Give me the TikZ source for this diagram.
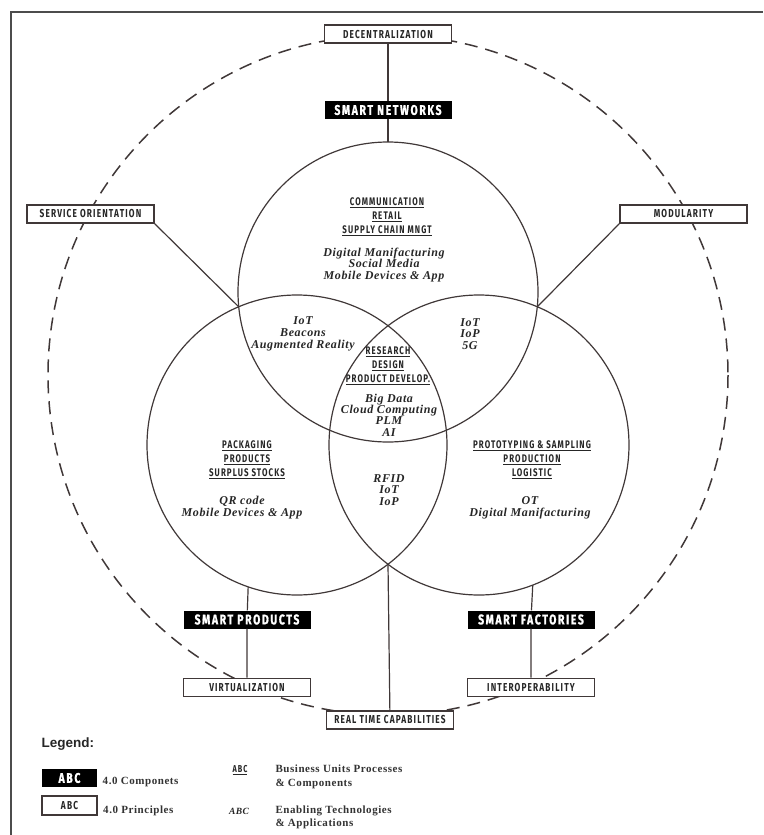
\documentclass[tikz,border=0pt]{standalone}
\usepackage{fontspec}
\newfontfamily\capsfont[FakeStretch=0.72,LetterSpace=10]{Fira Sans}
\newfontfamily\heavyfont[FakeStretch=0.74,LetterSpace=12,FakeBold=1.2]{Fira Sans}
\newfontfamily\serifbold[LetterSpace=5]{Liberation Serif}
\newfontfamily\legfont{Liberation Sans}
\usetikzlibrary{positioning}

\definecolor{ink}{RGB}{64,56,56}

\begin{document}
\begin{tikzpicture}[x=1pt, y=-1pt,
    principle/.style={draw=ink, line width=1.4pt, fill=white, minimum width=127pt, minimum height=18pt, inner sep=0pt,
      text=black!85, font=\capsfont\bfseries\fontsize{11.5}{12}\selectfont},
    component/.style={fill=black, text=white, minimum width=127pt, minimum height=18pt, inner sep=0pt,
      font=\heavyfont\bfseries\fontsize{14}{14}\selectfont},
    sphere/.style={draw=ink, line width=1.2pt, circle, minimum size=300pt, inner sep=0pt, outer sep=0pt},
    unit/.style={align=center, text=black!85, font=\capsfont\bfseries\fontsize{11}{14}\selectfont},
    tech/.style={align=center, text=black!85, font=\serifbold\bfseries\itshape\fontsize{12}{11.8}\selectfont},
    legtext/.style={align=left, text=black!80, font=\serifbold\bfseries\fontsize{11}{13.5}\selectfont},
    link/.style={draw=ink, line width=1.2pt}]
    \useasboundingbox (0,0) rectangle (763,835);
    \draw[black!70, line width=1.8pt] (11,835) -- (11,12) -- (763,12);

    % principles ring
    \draw[ink, line width=1.5pt, dash pattern=on 13pt off 8pt] (388,375) circle[radius=340];

    \node[sphere] (net) at (388,292) {};
    \node[sphere] (prod) at (297,445) {};
    \node[sphere] (fact) at (479,445) {};
    \coordinate (so) at (238.7,306.8);
    \coordinate (mo) at (537.3,306.8);
    \coordinate (rt) at (388,564.2);

    \node[component] (snet) at (388,110) {SMART NETWORKS};
    \node[principle, above=57pt of snet] (dec) {DECENTRALIZATION};
    \node[principle] (serv) at (90.5,214) {SERVICE ORIENTATION};
    \node[principle] (modu) at (683.5,214) {MODULARITY};
    \node[component] (sprod) at (247,619.5) {SMART PRODUCTS};
    \node[component] (sfact) at (531,619.5) {SMART FACTORIES};
    \node[principle, below=49pt of sprod] (virt) {VIRTUALIZATION};
    \node[principle, below=49pt of sfact] (inter) {INTEROPERABILITY};
    \node[principle] (real) at (390,720) {REAL TIME CAPABILITIES};

    \draw[link] (dec) -- (snet) -- (net.north);
    \draw[link] (serv.south east) -- (so);
    \draw[link] (modu.south west) -- (mo);
    \draw[link] (prod.-109.6) -- (sprod) -- (virt);
    \draw[link] (fact.-69.7) -- (sfact) -- (inter);
    \draw[link] (rt) -- (real);

    % units and technologies
    \node[unit] (netunits) at (387,217) {\underline{COMMUNICATION}\\\underline{RETAIL}\\\underline{SUPPLY CHAIN MNGT}};
    \node[tech] (nettech) at (384,265) {Digital Manifacturing\\Social Media\\Mobile Devices \& App};
    \node[tech] (netprod) at (303,334) {IoT\\Beacons\\Augmented Reality};
    \node[tech] (netfact) at (470,334) {IoT\\IoP\\5G};
    \node[unit] (coreunits) at (388,366) {\underline{RESEARCH}\\\underline{DESIGN}\\\underline{PRODUCT DEVELOP.}};
    \node[tech, font=\serifbold\bfseries\itshape\fontsize{12}{11.3}\selectfont] (coretech) at (389,415) {Big Data\\Cloud Computing\\PLM\\AI};
    \node[unit] (produnits) at (247,460) {\underline{PACKAGING}\\\underline{PRODUCTS}\\\underline{SURPLUS STOCKS}};
    \node[tech] (prodtech) at (242,507.5) {QR code\\Mobile Devices \& App};
    \node[unit] (factunits) at (532,460) {\underline{PROTOTYPING \& SAMPLING}\\\underline{PRODUCTION}\\\underline{LOGISTIC}};
    \node[tech] (facttech) at (530,507.5) {OT\\Digital Manifacturing};
    \node[tech] (prodfact) at (389,490) {RFID\\IoT\\IoP};

    % legend
    \node[anchor=west, text=black!85, font=\legfont\bfseries\fontsize{13.5}{14}\selectfont] (legend) at (38,744) {Legend:};
    \node[component, minimum width=55pt] (legcomp) at (69.5,778) {ABC};
    \node[principle, minimum width=55pt, minimum height=19pt] (legprin) at (69.5,805.5) {ABC};
    \node[legtext, right=2pt of legcomp, yshift=-4pt] {4.0 Componets};
    \node[legtext, right=2pt of legprin, yshift=-5pt] {4.0 Principles};
    \node[unit, font=\capsfont\bfseries\fontsize{10}{12}\selectfont] (legunit) at (240,770) {\underline{ABC}};
    \node[legtext, anchor=west, yshift=-7pt] at (272,770) {Business Units Processes\\\& Components};
    \node[tech, font=\serifbold\bfseries\itshape\fontsize{9.5}{12}\selectfont] (legtech) at (239,811) {ABC};
    \node[legtext, anchor=west, yshift=-6.5pt] at (272,811) {Enabling Technologies\\\& Applications};
\end{tikzpicture}
\end{document}
